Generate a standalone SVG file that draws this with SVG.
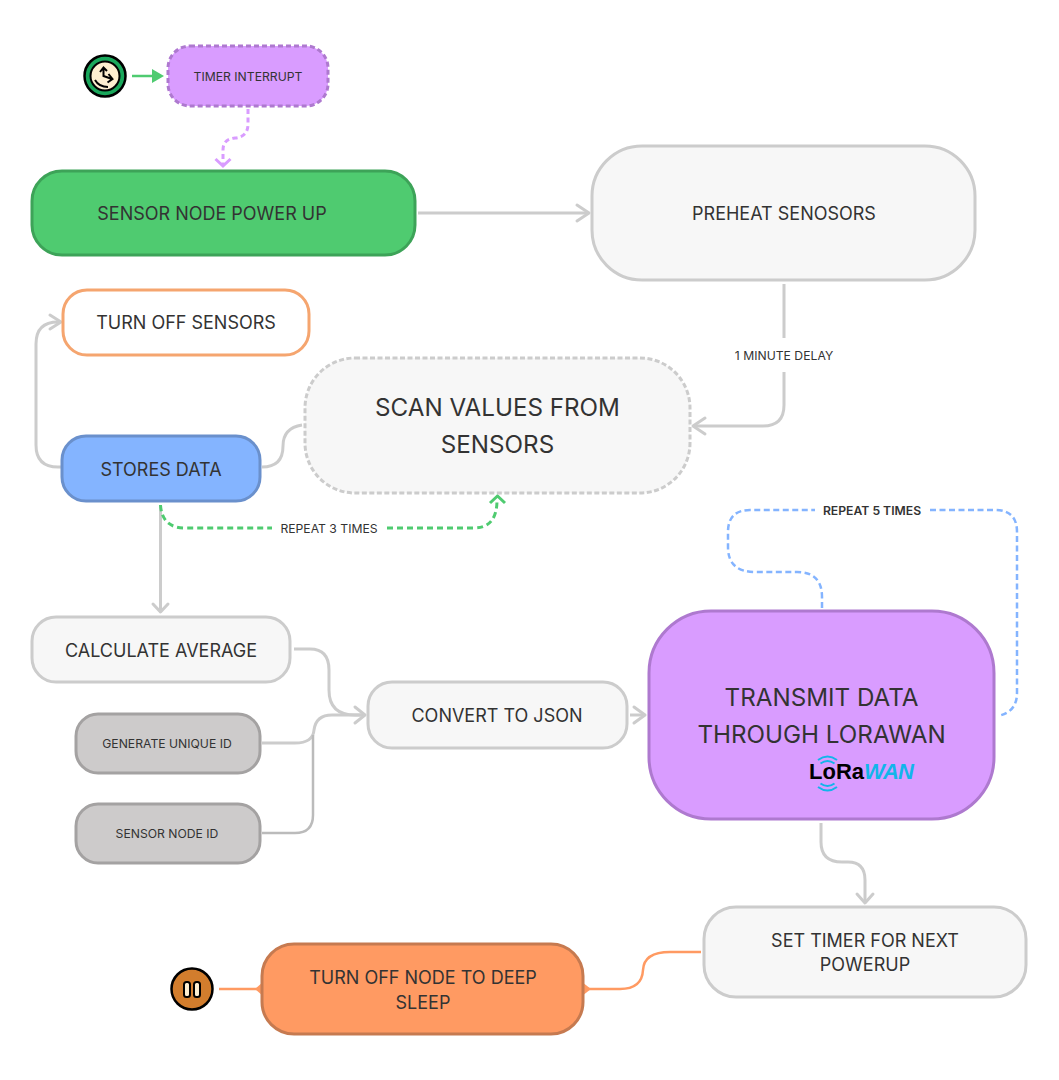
<svg xmlns="http://www.w3.org/2000/svg" width="1059" height="1080" viewBox="0 0 1059 1080">
<style>
text{font-family:Inter,"Liberation Sans",sans-serif;fill:#333;text-anchor:middle}
.n{stroke-width:3}
.c{fill:none;stroke:#ccc;stroke-width:3;stroke-linecap:butt}
.h{fill:none;stroke:#ccc;stroke-width:3;stroke-linecap:round;stroke-linejoin:round}
.s{font-size:12.2px}
.m{font-size:18px}
.l{font-size:24.200px}
</style>
<rect width="1059" height="1080" fill="#fff"/>
<g id="connectors">
<path d="M152 69L164 76L152 83Z" fill="#4fcb70"/><path d="M132 76H154" fill="none" stroke="#4fcb70" stroke-width="2.500"/>
<path d="M248 109V124Q248 137 235 138Q223 139 223 150V166" fill="none" stroke="#d99cff" stroke-width="3" stroke-dasharray="5 3.500"/>
<path d="M215.500 159L223 166L230.500 159" fill="none" stroke="#d99cff" stroke-width="3"/>
<path class="c" d="M418 213H589"/><path class="h" d="M577 205L589 213L577 221"/>
<path class="c" d="M784 284V338M784 372V405Q784 426 763 426H694"/><path class="h" d="M705 418L693 426L705 434"/>
<path class="c" d="M302 425Q283 428 283 446Q283 467 262 467"/>
<path class="c" d="M62 467H58Q36 467 36 445V344Q36 322 58 322H60"/><path class="h" d="M50 315L61 322L50 329"/>
<path class="c" d="M160.500 505V611"/><path class="h" d="M153 604L160.500 612L168 604"/>
<path d="M160.500 505Q162 528 185 528H272M387 528H474Q497 528 497 500" fill="none" stroke="#4fcb70" stroke-width="3" stroke-dasharray="6 4"/>
<path d="M490 503L497.500 496L505 503" fill="none" stroke="#4fcb70" stroke-width="3"/>
<path class="c" d="M294 649H310Q329 649 329 670V690Q329 715 355 715H365"/>
<path class="c" d="M262 743H295Q313 743 314 730Q316 715 332 715H365"/>
<path d="M262 833H295Q313 833 313 815V735" fill="none" stroke="#bbb" stroke-width="2.500"/>
<path class="h" d="M355 707L365 715L355 723"/>
<path class="c" d="M630 715H645"/><path class="h" d="M634 707L645 715L634 723"/>
<path d="M822 608V597Q822 572 797 572H755Q728 572 728 547V532Q728 510 750 510H815M930 510H995Q1017 510 1017 532V693Q1017 712 998 716" fill="none" stroke="#84b4ff" stroke-width="2.500" stroke-dasharray="6 3.500"/>
<path class="c" d="M821 823V842Q821 862 842 862H848Q865 862 865 880V902"/><path class="h" d="M857 894L865 903L873 894"/>
<path d="M701 952H670Q644 952 643 970Q642 989 620 989H586" fill="none" stroke="#ff9a62" stroke-width="2.500"/>
<path d="M219 989H262" fill="none" stroke="#ff9a62" stroke-width="2.500"/>
<path d="M255 989L263 982V996Z" fill="#ff9a62"/>
<path d="M591 989L582 982V996Z" fill="#ff9a62"/>
</g>
<g id="icon-timer">
<circle cx="105" cy="76" r="20.500" fill="#1aa85c" stroke="#000" stroke-width="2.500"/>
<circle cx="105" cy="76" r="14.500" fill="#fdeed0" stroke="#000" stroke-width="2"/>
<path d="M100 72L103.500 67.500L107 71M103.500 68V76L112 79M108.500 74L112.500 79L107.500 82.500M95 80Q99 87 108 87" fill="none" stroke="#000" stroke-width="2"/>
</g>
<g id="timer-interrupt"><rect x="168" y="46" width="160" height="60" rx="22" fill="#d99cff" stroke="#ae79cf" class="n" stroke-dasharray="5 3"/><text x="248" y="80.500" class="s">TIMER INTERRUPT</text></g>
<g id="power-up"><rect x="32" y="171" width="383" height="84" rx="30" fill="#4fcb70" stroke="#3da358" class="n"/><text x="212" y="220" class="m">SENSOR NODE POWER UP</text></g>
<g id="preheat"><rect x="592" y="146" width="383" height="134" rx="50" fill="#f7f7f7" stroke="#ccc" class="n"/><text x="784" y="220" class="m">PREHEAT SENOSORS</text></g>
<g id="turn-off-sensors"><rect x="63" y="290" width="246" height="65" rx="24" fill="#fff" stroke="#f5a56f" class="n"/><text x="186" y="329" class="m">TURN OFF SENSORS</text></g>
<g id="scan"><rect x="305" y="358" width="385" height="135" rx="50" fill="#f7f7f7" stroke="#ccc" class="n" stroke-dasharray="5 2.500"/><text x="497.500" y="416" class="l">SCAN VALUES FROM</text><text x="497.500" y="453" class="l">SENSORS</text></g>
<g id="stores"><rect x="62" y="436" width="198" height="65" rx="24" fill="#84b4ff" stroke="#6a90cc" class="n"/><text x="161" y="476" class="m">STORES DATA</text></g>
<g id="label-delay"><text x="784" y="359.500" class="s">1 MINUTE DELAY</text></g>
<g id="label-repeat3"><text x="329" y="532.500" class="s">REPEAT 3 TIMES</text></g>
<g id="label-repeat5"><text x="872" y="514.500" class="s" font-weight="600">REPEAT 5 TIMES</text></g>
<g id="average"><rect x="32" y="617" width="258" height="65" rx="24" fill="#f7f7f7" stroke="#ccc" class="n"/><text x="161" y="657" class="m">CALCULATE AVERAGE</text></g>
<g id="unique-id"><rect x="76" y="714" width="184" height="59" rx="22" fill="#cdcbcb" stroke="#a4a2a2" class="n"/><text x="167" y="748" class="s">GENERATE UNIQUE ID</text></g>
<g id="node-id"><rect x="76" y="804" width="184" height="59" rx="22" fill="#cdcbcb" stroke="#a4a2a2" class="n"/><text x="167" y="838" class="s">SENSOR NODE ID</text></g>
<g id="json"><rect x="368" y="682" width="259" height="66" rx="24" fill="#f7f7f7" stroke="#ccc" class="n"/><text x="497" y="722" class="m">CONVERT TO JSON</text></g>
<g id="transmit"><rect x="649" y="611" width="345" height="208" rx="62" fill="#d99cff" stroke="#ae79cf" class="n"/><text x="821.500" y="706" class="l">TRANSMIT DATA</text><text x="821.500" y="743" class="l">THROUGH LORAWAN</text>
<g id="lorawan-logo">
<path d="M818 760Q827.500 753 837 760M820.500 763.500Q827.500 758.500 834.500 763.500M820.500 783.500Q827.500 788.500 834.500 783.500M818 787Q827.500 794 837 787" fill="none" stroke="#12b5ea" stroke-width="2"/>
<text x="809" y="779" font-size="22" font-weight="700" textLength="55" style="text-anchor:start;fill:#000;font-family:'Liberation Sans',sans-serif">LoRa</text>
<text x="864" y="779" font-size="22" font-weight="700" font-style="italic" textLength="50" style="text-anchor:start;fill:#12b5ea;font-family:'Liberation Sans',sans-serif">WAN</text>
</g></g>
<g id="set-timer"><rect x="704" y="907" width="322" height="90" rx="32" fill="#f7f7f7" stroke="#ccc" class="n"/><text x="865" y="947" class="m">SET TIMER FOR NEXT</text><text x="865" y="971" class="m">POWERUP</text></g>
<g id="deep-sleep"><rect x="262" y="944" width="321" height="90" rx="32" fill="#ff9a62" stroke="#c67a50" class="n"/><text x="423" y="984" class="m">TURN OFF NODE TO DEEP</text><text x="423" y="1009" class="m">SLEEP</text></g>
<g id="icon-sleep">
<circle cx="192" cy="989" r="20.500" fill="#d27d2d" stroke="#000" stroke-width="2.500"/>
<rect x="184" y="982" width="6" height="15" rx="2.500" fill="#fdeed0" stroke="#000" stroke-width="2"/>
<rect x="194" y="982" width="6" height="15" rx="2.500" fill="#fdeed0" stroke="#000" stroke-width="2"/>
</g>
</svg>
